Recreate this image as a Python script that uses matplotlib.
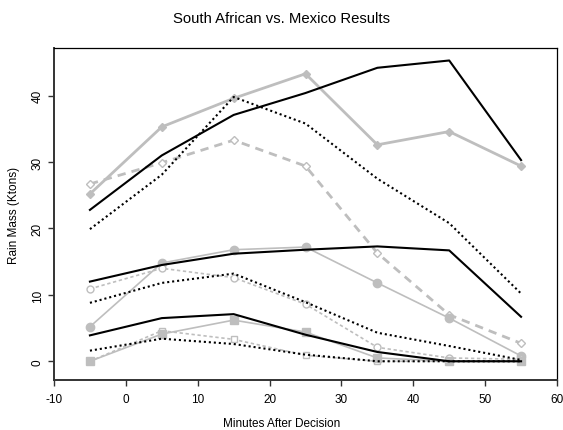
import matplotlib
matplotlib.use("Agg")
import matplotlib.pyplot as plt

plt.rcParams['font.family'] = ['Liberation Sans', 'DejaVu Sans']

minutes = [-5, 5, 15, 25, 35, 45, 55]

# Gray series with markers
gray_diamond_solid = [25.2, 35.3, 39.6, 43.3, 32.6, 34.6, 29.4]
gray_diamond_dashed = [26.7, 29.9, 33.3, 29.4, 16.3, 7.0, 2.7]
gray_circle_solid = [5.2, 14.8, 16.8, 17.2, 11.8, 6.5, 0.8]
gray_circle_dotted = [10.9, 14.0, 12.6, 8.6, 2.1, 0.5, 0.3]
gray_square_solid = [0.0, 4.1, 6.2, 4.4, 0.5, 0.0, 0.0]
gray_square_dotted = [0.0, 4.6, 3.3, 0.9, 0.0, 0.0, 0.0]

# Black series
black_solid_top = [22.8, 31.0, 37.1, 40.4, 44.2, 45.3, 30.3]
black_dotted_top = [19.9, 28.1, 39.8, 35.8, 27.5, 20.8, 10.2]
black_solid_mid = [12.0, 14.5, 16.2, 16.8, 17.3, 16.7, 6.7]
black_dotted_mid = [8.8, 11.8, 13.2, 8.9, 4.3, 2.3, 0.2]
black_solid_low = [3.9, 6.5, 7.1, 4.0, 1.4, 0.0, 0.0]
black_dotted_low = [1.6, 3.4, 2.6, 1.0, 0.0, 0.0, 0.0]

xticks = [-10, 0, 10, 20, 30, 40, 50, 60]
yticks = [0, 10, 20, 30, 40]

title = "South African vs. Mexico Results"
xlabel = "Minutes After Decision"
ylabel = "Rain Mass (Ktons)"

GRAY = '#bebebe'

fig = plt.figure(figsize=(5.63, 4.31), dpi=100)
ax = fig.add_axes([54/563, 1-381/431, (557-54)/563, (381-49)/431])

dot = (0, (1, 1.4))
# gray lines
ax.plot(minutes, gray_diamond_solid, color=GRAY, lw=2, marker='D', ms=4, mfc=GRAY, mec=GRAY)
ax.plot(minutes, gray_diamond_dashed, color=GRAY, lw=2, ls=(0, (3, 2.2)), marker='D', ms=4, mfc='white', mec=GRAY, mew=1)
ax.plot(minutes, gray_circle_solid, color=GRAY, lw=1.2, marker='o', ms=6, mfc=GRAY, mec=GRAY)
ax.plot(minutes, gray_circle_dotted, color=GRAY, lw=1.2, ls=(0, (2, 1.6)), marker='o', ms=5, mfc='white', mec=GRAY, mew=1)
ax.plot(minutes, gray_square_dotted, color=GRAY, lw=1.2, ls=(0, (2, 1.6)), marker='s', ms=5, mfc='white', mec=GRAY, mew=1)
ax.plot(minutes, gray_square_solid, color=GRAY, lw=1.2, marker='s', ms=5.5, mfc=GRAY, mec=GRAY)

# black lines
for ys in (black_solid_top, black_solid_mid, black_solid_low):
    ax.plot(minutes, ys, color='black', lw=1.5)
for ys in (black_dotted_top, black_dotted_mid, black_dotted_low):
    ax.plot(minutes, ys, color='black', lw=1.5, ls=dot)

ax.set_xlim(-10, 60)
ax.set_ylim(-2.82, 47.18)
ax.set_xticks(xticks)
ax.set_xticklabels([str(t) for t in xticks])
ax.set_yticks(yticks)
ax.set_yticklabels([str(t) for t in yticks], rotation=90, va='center')

ax.tick_params(axis='both', direction='out', length=4.5, width=1, labelsize=8.5, color='#333333')
ax.tick_params(axis='x', pad=5)
ax.tick_params(axis='y', pad=3)

for side in ('top', 'right'):
    ax.spines[side].set_linewidth(0.9)
    ax.spines[side].set_color('black')
for side in ('left', 'bottom'):
    ax.spines[side].set_linewidth(1.4)
    ax.spines[side].set_color('#333333')

fig.text(0.5, 1-19/431, title, ha='center', va='center', fontsize=10.7)
fig.text(0.5, 1-424/431, xlabel, ha='center', va='center', fontsize=8.5)
fig.text(14/563, 1-215/431, ylabel, ha='center', va='center', rotation=90, fontsize=8.5)

fig.savefig('out.png', dpi=100)
